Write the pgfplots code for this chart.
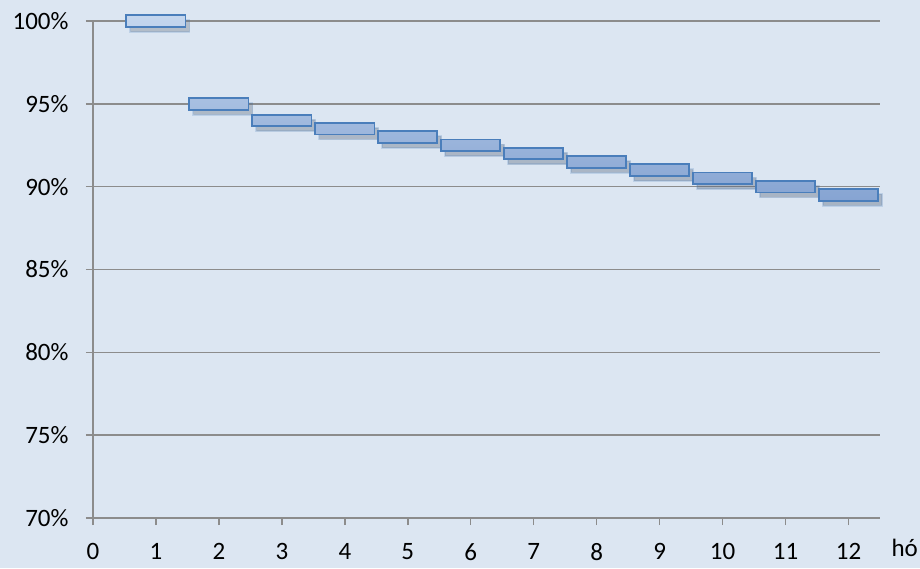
\documentclass[border=0pt]{standalone}
\usepackage{pgfplots}
\pgfplotsset{compat=1.18}
\usepackage{fontspec}
\setmainfont{Carlito}
\usetikzlibrary{shadows}
\definecolor{bg}{HTML}{DCE6F2}
\definecolor{gridc}{HTML}{8C8C8C}
\definecolor{barborder}{HTML}{4A7EBB}
\definecolor{bartop}{HTML}{C4D6EE}
\definecolor{barbot}{HTML}{86A4D2}
\begin{document}
\begin{tikzpicture}
\fill[bg] (-93pt,-50pt) rectangle (827pt,518pt);
\useasboundingbox (-93pt,-50pt) rectangle (827pt,518pt);
\begin{axis}[
  at={(0,0)}, anchor=south west,
  scale only axis, width=787pt, height=497pt,
  xmin=0, xmax=12.5, ymin=70, ymax=100,
  xtick={0,...,12}, ytick={70,75,...,100},
  axis x line*=bottom, axis y line*=left,
  axis line style={gridc, line width=1.4pt, -},
  ymajorgrids, major grid style={gridc, line width=1.4pt},
  tick style={gridc, line width=1.4pt},
  major tick length=7pt,
  xtick align=outside, ytick align=outside,
  yticklabel={\pgfmathprintnumber{\tick}\%},
  /pgf/number format/assume math mode=true,
  every tick label/.append style={font=\fontsize{25}{30}\selectfont, text=black},
  xticklabel style={yshift=-15pt},
  yticklabel style={xshift=-14pt},
  ybar stacked, bar width=0.94,
  clip=false,
]
\addplot[draw=none, fill=none] coordinates {
(1,99.65) (2,94.65) (3,93.65) (4,93.15) (5,92.65) (6,92.15)
(7,91.65) (8,91.15) (9,90.65) (10,90.15) (11,89.65) (12,89.15)};
\addplot[draw=barborder, line width=1.8pt, top color=bartop, bottom color=barbot,
  drop shadow={shadow xshift=4pt, shadow yshift=-5pt, opacity=0.2, fill=black}] coordinates {
(1,0.7) (2,0.7) (3,0.7) (4,0.7) (5,0.7) (6,0.7)
(7,0.7) (8,0.7) (9,0.7) (10,0.7) (11,0.7) (12,0.7)};
\node[anchor=base west, font=\fontsize{25}{30}\selectfont] at (rel axis cs:1,0) [xshift=8pt, yshift=-38pt] {hó};
\end{axis}
\end{tikzpicture}
\end{document}
